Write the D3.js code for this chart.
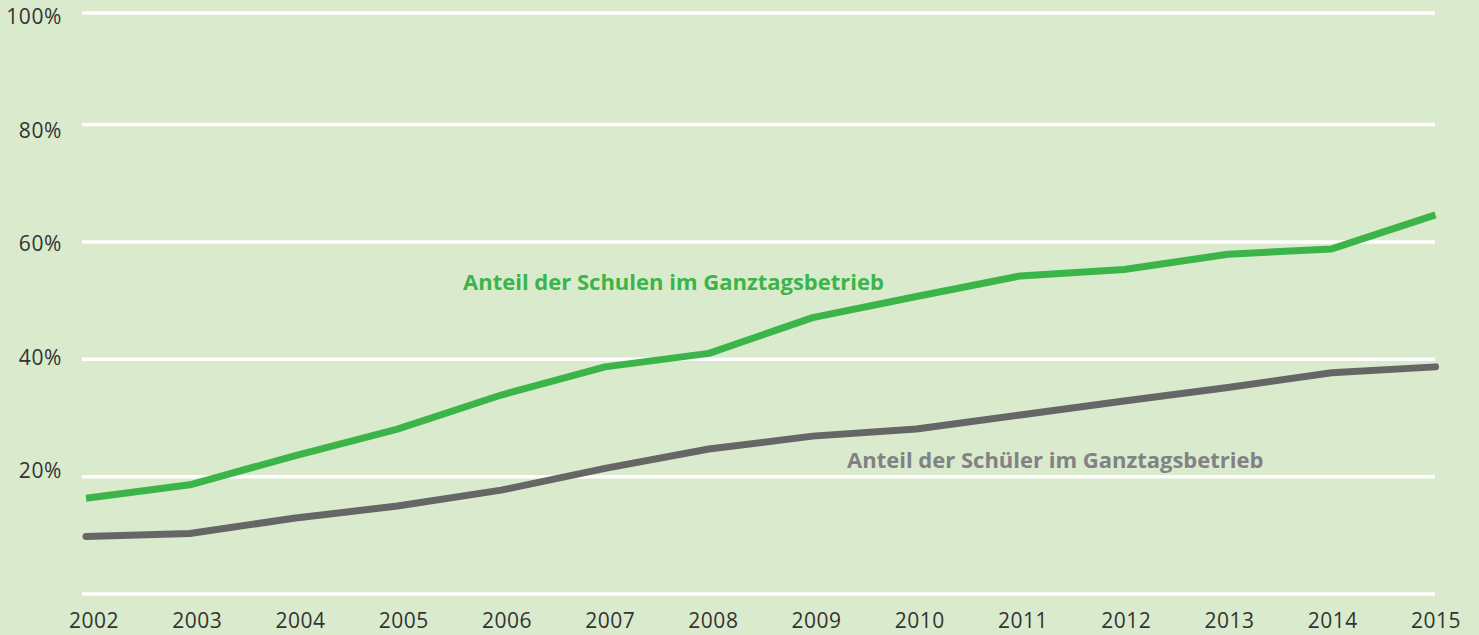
<!DOCTYPE html>
<html lang="de">
<head>
    <meta charset="UTF-8">
    <title>Ganztagsbetrieb</title>
    <script src="https://d3js.org/d3.v7.min.js"></script>
    <style>
        body, html {
            margin: 0;
            padding: 0;
            background-color: #daeacc;
            font-family: 'Open Sans', sans-serif;
        }
        svg { display: block; }
    </style>
</head>
<body>
<svg id="chart" width="1479" height="635"></svg>

<script>
    const years = [2002, 2003, 2004, 2005, 2006, 2007, 2008, 2009, 2010, 2011, 2012, 2013, 2014, 2015];
    const schulen = [16.3, 18.6, 23.5, 28.1, 33.9, 38.7, 41.0, 47.1, 50.7, 54.2, 55.3, 57.9, 58.8, 64.6];
    const schueler = [9.8, 10.3, 12.9, 15.0, 17.7, 21.4, 24.7, 26.9, 28.1, 30.5, 32.9, 35.2, 37.7, 38.7];
    const yTicks = [0, 20, 40, 60, 80, 100];
    const yLabels = [20, 40, 60, 80, 100];

    const svg = d3.select('#chart');

    svg.append('rect')
        .attr('width', 1479).attr('height', 635)
        .attr('fill', '#daeacc');

    const x = d3.scaleLinear().domain([2002, 2015]).range([86, 1435.5]);
    // top band is a bit tighter in the original
    const y = d3.scaleLinear().domain([0, 80, 100]).range([594, 124.5, 13]);
    // labels sit slightly off the grid in the original
    const xLab = d3.scaleLinear().domain([2002, 2015]).range([94, 1436]);
    const yLab = d3.scaleLinear().domain([0, 100]).range([584, 17]);

    // grid
    svg.append('g')
        .selectAll('line')
        .data(yTicks)
        .join('line')
        .attr('x1', 82)
        .attr('x2', 1435)
        .attr('y1', d => y(d))
        .attr('y2', d => y(d))
        .attr('stroke', '#ffffff')
        .attr('stroke-width', 3.5);

    // y labels
    svg.append('g')
        .selectAll('text')
        .data(yLabels)
        .join('text')
        .attr('x', 62)
        .attr('y', d => yLab(d))
        .attr('dy', '0.35em')
        .attr('text-anchor', 'end')
        .attr('fill', '#333333')
        .style('font-size', '21px')
        .style('letter-spacing', '0.6px')
        .text(d => d + '%');

    // x labels
    svg.append('g')
        .selectAll('text')
        .data(years)
        .join('text')
        .attr('x', d => xLab(d))
        .attr('y', 620.5)
        .attr('dy', '0.35em')
        .attr('text-anchor', 'middle')
        .attr('fill', '#333333')
        .style('font-size', '21px')
        .style('letter-spacing', '0.5px')
        .text(d => d);

    const line = d3.line()
        .x((d, i) => x(years[i]))
        .y(d => y(d));

    svg.append('path')
        .datum(schueler)
        .attr('fill', 'none')
        .attr('stroke', '#666666')
        .attr('stroke-width', 7)
        .attr('stroke-linecap', 'round')
        .attr('stroke-linejoin', 'round')
        .attr('d', line);

    svg.append('path')
        .datum(schulen)
        .attr('fill', 'none')
        .attr('stroke', '#3bb54a')
        .attr('stroke-width', 7)
        .attr('stroke-linejoin', 'round')
        .attr('d', line);

    svg.append('text')
        .attr('x', 463)
        .attr('y', 290)
        .attr('fill', '#3bb54a')
        .style('font-size', '22px')
        .style('font-weight', 'bold')
        .text('Anteil der Schulen im Ganztagsbetrieb');

    svg.append('text')
        .attr('x', 847)
        .attr('y', 468)
        .attr('fill', '#808285')
        .style('font-size', '22px')
        .style('font-weight', 'bold')
        .text('Anteil der Schüler im Ganztagsbetrieb');
</script>
</body>
</html>
